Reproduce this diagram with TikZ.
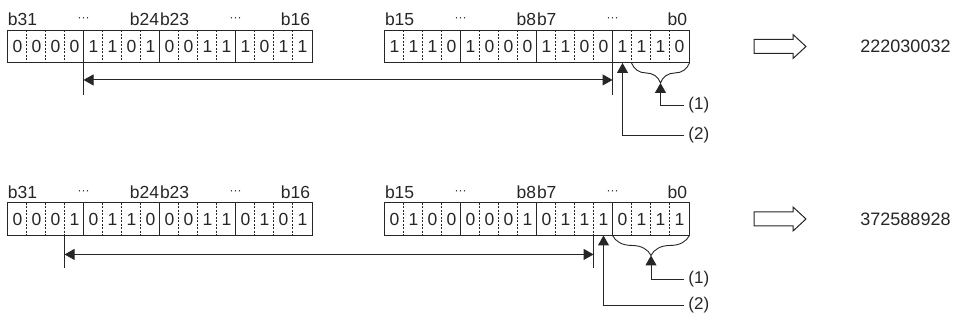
\documentclass[tikz,border=0pt]{standalone}
\usepackage{fontspec}
\setmainfont{Liberation Sans}
\usetikzlibrary{arrows.meta, positioning, calc, decorations.pathreplacing}

\begin{document}
\begin{tikzpicture}[x=1pt, y=-1pt, >={Triangle[length=10pt, width=11pt]},
  line width=0.9pt, color=black!85,
  bit/.style={minimum width=19pt, minimum height=32pt, inner sep=0pt,
              font=\fontsize{17.5}{17.5}\selectfont},
  bitsep/.style={line width=0.6pt, dash pattern=on 2pt off 1.5pt},
  bitno/.style={inner sep=0pt, font=\fontsize{17.5}{17.5}\selectfont},
  dots/.style={inner sep=0pt, font=\fontsize{12}{12}\selectfont},
  marker/.style={inner sep=0pt, inner xsep=4pt, anchor=west,
                 font=\fontsize{17}{17}\selectfont},
  outval/.style={inner sep=0pt, anchor=west, font=\fontsize{18}{18}\selectfont},
  hollow/.style={fill=white, line width=1pt},
  brc/.style={decorate, decoration={brace, amplitude=20pt, mirror}}
]
  \useasboundingbox (0,0) rectangle (954,320);

  %% Bit cells, upper example
  \foreach \d [count=\i from 0] in {0,0,0,0,1,1,0,1,0,0,1,1,1,0,1,1}
    \node[bit] (hiA\i) at (17.5+19*\i, 46.5) {\d};
  \foreach \d [count=\i from 0] in {1,1,1,0,1,0,0,0,1,1,0,0,1,1,1,0}
    \node[bit] (loA\i) at (394.5+19*\i, 46.5) {\d};

  %% Bit cells, lower example
  \foreach \d [count=\i from 0] in {0,0,0,1,0,1,1,0,0,0,1,1,0,1,0,1}
    \node[bit] (hiB\i) at (17.5+19*\i, 219) {\d};
  \foreach \d [count=\i from 0] in {0,1,0,0,0,0,0,1,0,1,1,1,0,1,1,1}
    \node[bit] (loB\i) at (394.5+19*\i, 219) {\d};

  %% Frames, nibble lines and bit lines
  \foreach \r in {hiA, loA, hiB, loB} {
    \draw (\r0.north west) rectangle (\r15.south east);
    \foreach \i in {4,8,12}
      \draw (\r\i.north west) -- (\r\i.south west);
    \foreach \i in {1,2,3,5,6,7,9,10,11,13,14,15}
      \draw[bitsep] (\r\i.north west) -- (\r\i.south west);
  }

  %% Bit numbers above the frames
  \foreach \r/\ba/\bb/\bc/\bd in {hiA/b31/b24/b23/b16, loA/b15/b8/b7/b0,
                                  hiB/b31/b24/b23/b16, loB/b15/b8/b7/b0} {
    \node[bitno, anchor=base west] (\r-first) at ($(\r0.north west)+(0,-4.5)$) {\ba};
    \node[dots, anchor=base] (\r-dotsL) at ($(\r4.north west)+(0,-8.5)$) {···};
    \node[bitno, anchor=base east] (\r-midH) at ($(\r8.north west)+(0,-4.5)$) {\bb};
    \node[bitno, anchor=base west] (\r-midL) at ($(\r8.north west)+(0,-4.5)$) {\bc};
    \node[dots, anchor=base] (\r-dotsR) at ($(\r12.north west)+(0,-8.5)$) {···};
    \node[bitno, anchor=base east] (\r-last) at ($(\r15.north east)+(-2,-4.5)$) {\bd};
  }

  %% Upper example: span arrow
  \coordinate (spanAl) at ($(hiA4.south west)+(0,17)$);
  \coordinate (spanAr) at ($(loA12.south west)+(0,17)$);
  \draw (hiA4.south west) -- ++(0,32.5);
  \draw (loA12.south west) -- ++(0,32.5);
  \draw[<->] (spanAl) -- (spanAr);

  %% Upper example: (1) and (2)
  \draw[brc] (loA13.south west) -- (loA15.south east);
  \coordinate (tipA) at ($(loA13.south west)!0.5!(loA15.south east)+(0,20)$);
  \node[marker] (oneA) at (684,105) {(1)};
  \node[marker] (twoA) at (684,135) {(2)};
  \draw[->] (oneA.west) -| (tipA);
  \draw[->] (twoA.west) -| (loA12.south);

  %% Upper example: result
  \coordinate (harrA) at (754,46.5);
  \draw[hollow] (harrA) ++(0,-7) -- ++(39,0) -- ++(0,-5) -- ++(13,12)
    -- ++(-13,12) -- ++(0,-5) -- ++(-39,0) -- cycle;
  \node[outval] (valA) at (860,46.5) {222030032};

  %% Lower example: span arrow
  \coordinate (spanBl) at ($(hiB3.south west)+(0,19)$);
  \coordinate (spanBr) at ($(loB11.south west)+(0,19)$);
  \draw (hiB3.south west) -- ++(0,33);
  \draw (loB11.south west) -- ++(0,33);
  \draw[<->] (spanBl) -- (spanBr);

  %% Lower example: (1) and (2)
  \draw[brc] (loB12.south west) -- (loB15.south east);
  \coordinate (tipB) at ($(loB12.south west)!0.5!(loB15.south east)+(0,20)$);
  \node[marker] (oneB) at (684,279) {(1)};
  \node[marker] (twoB) at (684,305) {(2)};
  \draw[->] (oneB.west) -| (tipB);
  \draw[->] (twoB.west) -| (loB11.south);

  %% Lower example: result
  \coordinate (harrB) at (754,219);
  \draw[hollow] (harrB) ++(0,-7) -- ++(39,0) -- ++(0,-5) -- ++(13,12)
    -- ++(-13,12) -- ++(0,-5) -- ++(-39,0) -- cycle;
  \node[outval] (valB) at (860,219) {372588928};
\end{tikzpicture}
\end{document}
